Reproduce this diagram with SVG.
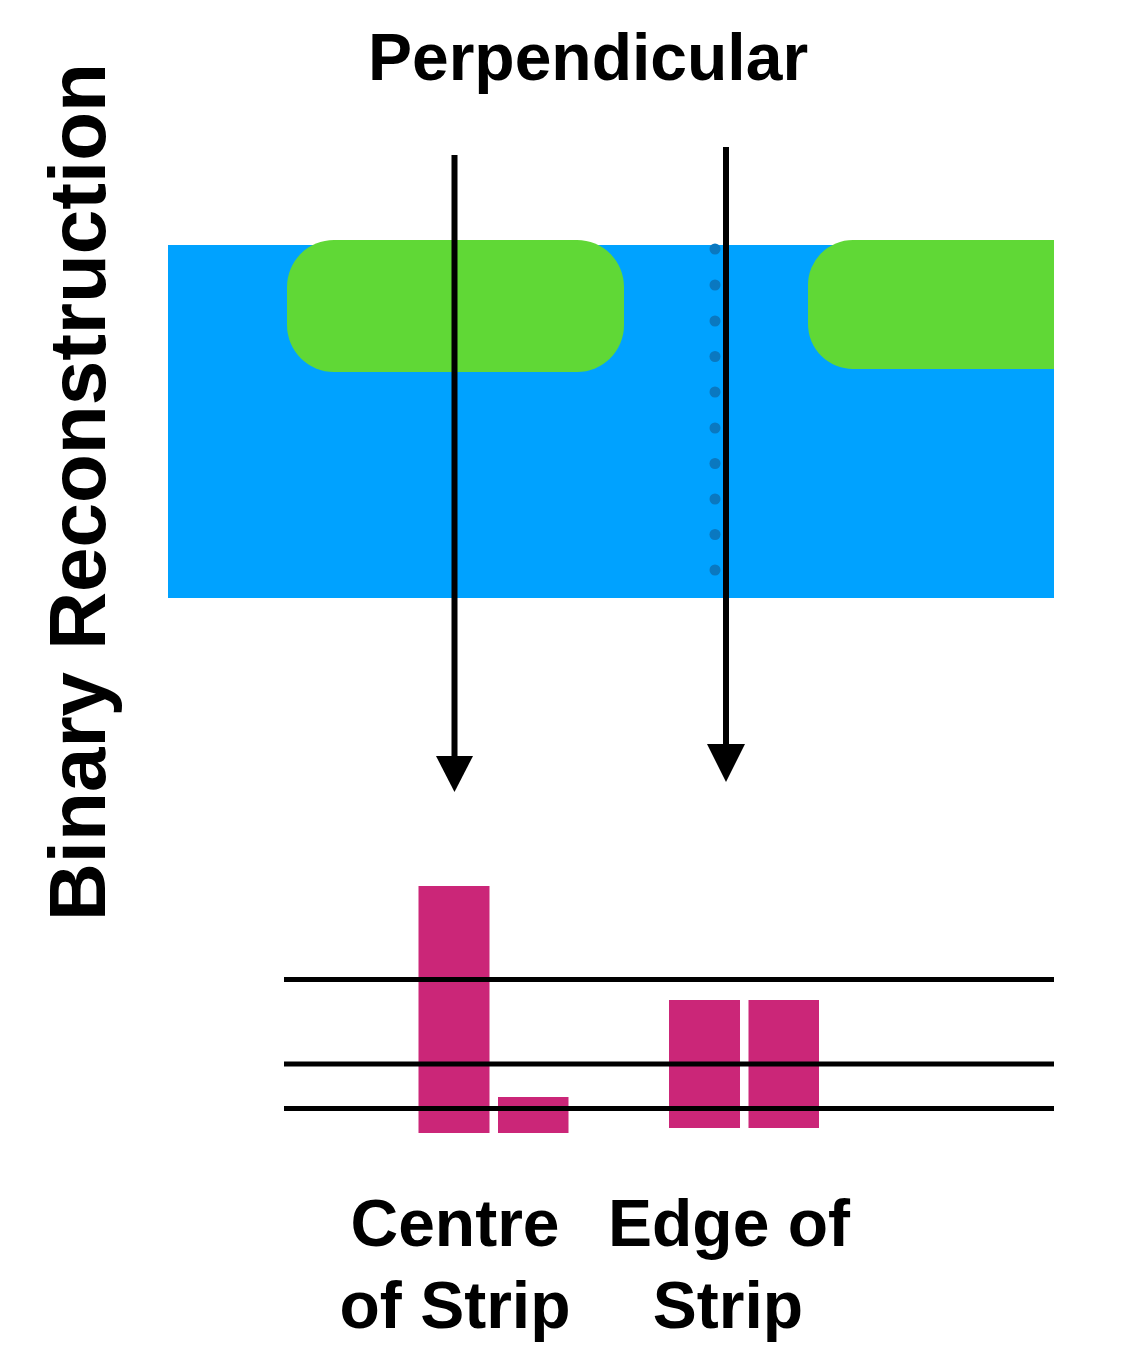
<svg xmlns="http://www.w3.org/2000/svg" width="1127" height="1354" viewBox="0 0 1127 1354">
  <style>
    .lbl { font-family: "Liberation Sans", Arial, Helvetica, sans-serif; font-weight: bold; fill: #000; text-anchor: middle; }
    .green { fill: #60D836; }
    .bar { fill: #CB2678; }
    .dot { fill: #0A78C0; }
    .conn { stroke: #000; stroke-width: 6; fill: none; }
    .axis { stroke: #000; stroke-width: 5; }
  </style>
  <rect width="1127" height="1354" fill="#fff"/>

  <g id="title-top">
    <text class="lbl" x="588" y="80" font-size="66">Perpendicular</text>
  </g>
  <g id="title-side">
    <text class="lbl" font-size="80" transform="translate(105,492) rotate(-90)">Binary Reconstruction</text>
  </g>

  <g id="strip">
    <rect x="168" y="245" width="886" height="353" fill="#00A2FF"/>
    <rect class="green" x="287" y="240" width="337" height="132" rx="47" ry="47"/>
    <path class="green" d="M1054,240 H853 A45,45 0 0 0 808,285 V324 A45,45 0 0 0 853,369 H1054 Z"/>
    <g id="dots">
      <circle class="dot" cx="715" cy="249" r="5.5"/>
      <circle class="dot" cx="715" cy="285" r="5.5"/>
      <circle class="dot" cx="715" cy="321" r="5.5"/>
      <circle class="dot" cx="715" cy="356.5" r="5.5"/>
      <circle class="dot" cx="715" cy="392" r="5.5"/>
      <circle class="dot" cx="715" cy="428" r="5.5"/>
      <circle class="dot" cx="715" cy="463.5" r="5.5"/>
      <circle class="dot" cx="715" cy="499" r="5.5"/>
      <circle class="dot" cx="715" cy="534.5" r="5.5"/>
      <circle class="dot" cx="715" cy="570" r="5.5"/>
    </g>
  </g>

  <g id="bars">
    <rect class="bar" x="418.5" y="886" width="71" height="247"/>
    <rect class="bar" x="498" y="1097" width="70.5" height="36"/>
    <rect class="bar" x="669" y="1000" width="71" height="128"/>
    <rect class="bar" x="748.5" y="1000" width="70.5" height="128"/>
  </g>

  <g id="levels">
    <line class="axis" x1="284" y1="979.5" x2="1054" y2="979.5"/>
    <line class="axis" x1="284" y1="1064" x2="1054" y2="1064"/>
    <line class="axis" x1="284" y1="1108.5" x2="1054" y2="1108.5"/>
  </g>

  <g id="connectors">
    <line class="conn" x1="454.5" y1="155" x2="454.5" y2="760"/>
    <polygon points="436,756 473,756 454.5,792" fill="#000"/>
    <line class="conn" x1="726" y1="147" x2="726" y2="748"/>
    <polygon points="707,744 745,744 726,782" fill="#000"/>
  </g>

  <g id="label-centre">
    <text class="lbl" x="455" y="1246" font-size="66">Centre</text>
    <text class="lbl" x="455" y="1328" font-size="66">of Strip</text>
  </g>
  <g id="label-edge">
    <text class="lbl" x="729" y="1246" font-size="66">Edge of</text>
    <text class="lbl" x="728" y="1328" font-size="66">Strip</text>
  </g>
</svg>
